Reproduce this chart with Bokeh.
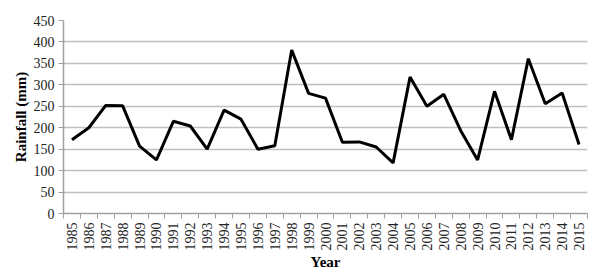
from bokeh.plotting import figure
from bokeh.models import FixedTicker, ColumnDataSource, Range1d, BoxAnnotation
from bokeh.embed import file_html
from bokeh.resources import INLINE
import math

years = [str(y) for y in range(1985, 2016)]
rainfall = [172, 200, 252, 251, 157, 125, 215, 204, 150, 241, 220, 150, 158, 381, 280,
            269, 166, 167, 155, 118, 318, 250, 278, 193, 125, 285, 172, 361, 256, 281, 161]
y_ticks = [0, 50, 100, 150, 200, 250, 300, 350, 400, 450]

idx = list(range(len(years)))
src = ColumnDataSource(dict(x=idx, y=rainfall))

p = figure(width=606, height=276, output_backend="svg", toolbar_location=None,
           x_range=Range1d(-0.5, len(years) - 0.5), y_range=Range1d(0, 450),
           min_border_left=63, min_border_right=19, min_border_top=20, min_border_bottom=63)
p.line("x", "y", source=src, line_color="black", line_width=3)

border = BoxAnnotation(left=20, right=600, top=5, bottom=260,
                       left_units="canvas", right_units="canvas",
                       top_units="canvas", bottom_units="canvas",
                       fill_color=None, line_color="#dcdcdc", line_width=1,
                       level="underlay")
p.add_layout(border)

p.outline_line_color = None
p.xgrid.grid_line_color = None
p.ygrid.grid_line_color = "#c0c0c0"
p.ygrid.grid_line_width = 1.5

p.xaxis.ticker = FixedTicker(ticks=idx, minor_ticks=[i - 0.5 for i in range(len(years) + 1)])
p.xaxis.major_label_overrides = {i: y for i, y in enumerate(years)}
p.xaxis.major_label_orientation = math.pi / 2
p.xaxis.major_tick_line_color = None
p.xaxis.minor_tick_line_color = "#a0a0a0"
p.xaxis.minor_tick_out = 5
p.xaxis.minor_tick_in = 0
p.yaxis.ticker = FixedTicker(ticks=y_ticks)
p.yaxis.minor_tick_line_color = None
p.yaxis.major_tick_line_color = "#a0a0a0"
p.yaxis.major_tick_out = 5
p.yaxis.major_tick_in = 0

for ax in (p.xaxis, p.yaxis):
    ax.axis_line_color = "#a0a0a0"
    ax.axis_line_width = 1.5
    ax.major_label_text_font = "Liberation Serif"
    ax.major_label_text_font_size = "14px"
    ax.major_label_text_color = "#222222"
    ax.axis_label_text_font = "Liberation Serif"
    ax.axis_label_text_font_style = "bold"
    ax.axis_label_text_font_size = "15px"
    ax.axis_label_text_color = "black"

p.xaxis.axis_label = "Year"
p.xaxis.axis_label_standoff = 0
p.xaxis.major_label_standoff = 3
p.yaxis.axis_label = "Rainfall (mm)"
p.yaxis.axis_label_standoff = 2
p.yaxis.major_label_standoff = 4

open("out.html", "w").write(file_html(p, INLINE))
